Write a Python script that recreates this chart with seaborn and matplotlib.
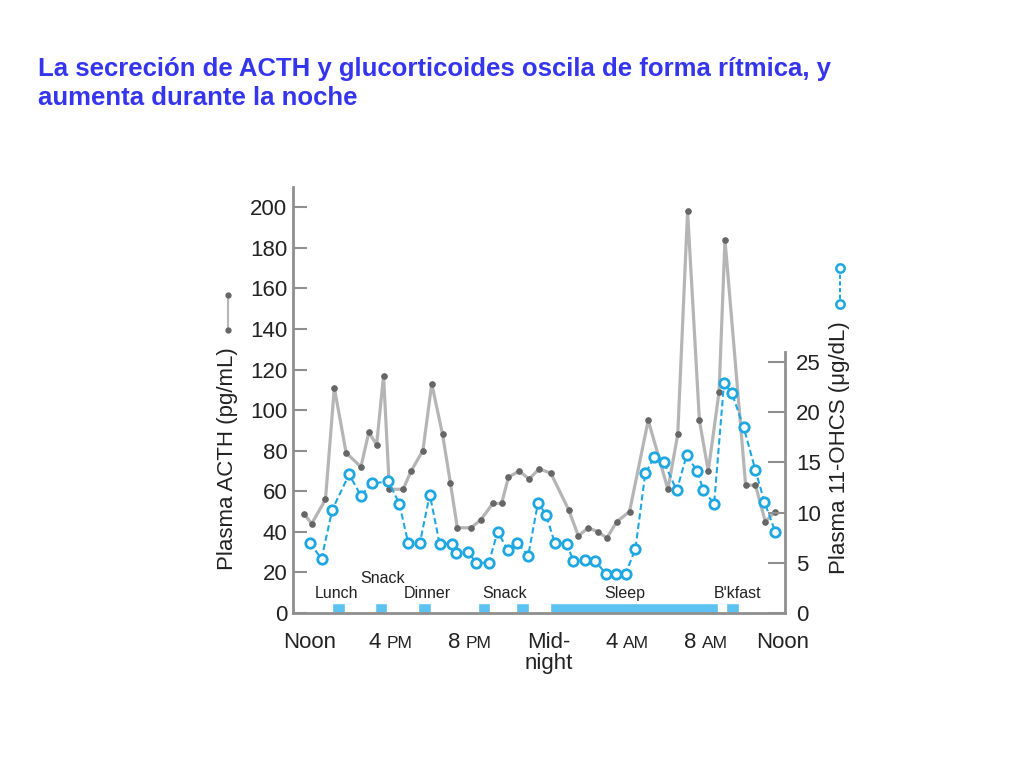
import numpy as np
import pandas as pd
import matplotlib
matplotlib.use("Agg")
import matplotlib.pyplot as plt
import matplotlib.transforms as mtransforms
from matplotlib.lines import Line2D
import seaborn as sns

# hours after noon, ACTH (pg/mL)
acth_hours = [-0.45, -0.05, 0.65, 1.1, 1.7, 2.45, 2.85, 3.25, 3.6, 3.9, 4.6, 5.0,
              5.6, 6.05, 6.6, 7.0, 7.35, 8.05, 8.55, 9.15, 9.6, 9.95, 10.5, 11.0,
              11.5, 12.1, 13.0, 13.5, 14.0, 14.5, 14.95, 15.45, 16.1, 17.05, 18.05,
              18.55, 19.05, 19.65, 20.1, 20.65, 20.95, 22.0, 22.5, 23.0, 23.5]
acth_vals = [49, 44, 56, 111, 79, 72, 89, 83, 117, 61, 61, 70,
             80, 113, 88, 64, 42, 42, 46, 54, 54, 67, 70, 66,
             71, 69, 51, 38, 42, 40, 37, 45, 50, 95, 61,
             88, 198, 95, 70, 109, 184, 63, 63, 45, 50]

# hours after noon, 11-OHCS (ug/dL)
ohcs_hours = [-0.15, 0.45, 1.0, 1.85, 2.45, 3.0, 3.85, 4.4, 4.85, 5.45, 5.95, 6.45,
              7.1, 7.3, 7.9, 8.3, 8.95, 9.4, 9.9, 10.4, 10.95, 11.45, 11.85, 12.3,
              12.9, 13.25, 13.85, 14.35, 14.9, 15.4, 15.9, 16.4, 16.9, 17.35, 17.85,
              18.5, 19.0, 19.55, 19.85, 20.4, 20.9, 21.3, 21.9, 22.5, 22.95, 23.5]
ohcs_vals = [7.0, 5.4, 10.3, 13.8, 11.7, 12.9, 13.1, 10.9, 7.0, 7.0, 11.8, 6.9,
             6.9, 6.0, 6.1, 5.0, 5.0, 8.1, 6.3, 7.0, 5.7, 11.0, 9.8, 7.0,
             6.9, 5.2, 5.3, 5.2, 3.9, 3.9, 3.9, 6.4, 13.9, 15.5, 15.0,
             12.2, 15.7, 14.1, 12.2, 10.9, 22.9, 21.9, 18.5, 14.2, 11.1, 8.1]

# meals / sleep periods (hours after noon)
meal_starts = [1.0, 3.15, 5.35, 8.4, 10.35, 12.05, 21.0]
meal_ends = [1.65, 3.8, 6.0, 9.0, 11.0, 20.6, 21.65]
meal_labels = ["Lunch", "Snack", "Dinner", "Snack", "Sleep", "B'kfast"]
meal_label_x = [1.2, 3.55, 5.8, 9.75, 15.85, 21.6]
meal_label_y = [9.8, 17.2, 9.8, 9.8, 9.8, 9.8]

hour_ticks = [0, 4, 8, 12, 16, 20, 24]
hour_labels = ["Noon", "4", "8", "Mid-\nnight", "4", "8", "Noon"]
hour_suffix = ["", "PM", "PM", "", "AM", "AM", ""]

acth = pd.DataFrame({"hour": acth_hours, "acth": acth_vals})
ohcs = pd.DataFrame({"hour": ohcs_hours, "ohcs": ohcs_vals})

sns.set_theme(style="white")
plt.rcParams["font.family"] = ["Liberation Sans", "DejaVu Sans"]

GREY = "#8f8f8f"
BLUE = "#1ea7e1"
TXT = "#222222"

fig = plt.figure(figsize=(10.24, 7.68), dpi=100)
ax = fig.add_axes([293 / 1024, 1 - 613 / 768, 492 / 1024, 426 / 768])
ax2 = ax.twinx()

# meal bars
widths = np.array(meal_ends) - np.array(meal_starts)
ax.bar(meal_starts, 5, width=widths, align="edge", color="#5bc2f2", zorder=2)
for lab, x, y in zip(meal_labels, meal_label_x, meal_label_y):
    ax.text(x, y, lab, ha="center", va="center", fontsize=11.5, color=TXT)

sns.lineplot(data=acth, x="hour", y="acth", ax=ax, color="#b5b5b5", linewidth=2.3,
             marker="o", markersize=4, markerfacecolor="#666666",
             markeredgecolor="#666666", zorder=3)
sns.lineplot(data=ohcs, x="hour", y="ohcs", ax=ax2, color=BLUE, linewidth=1.5,
             linestyle=(0, (3, 1.6)), marker="o", markersize=6.8,
             markerfacecolor="white", markeredgecolor=BLUE, markeredgewidth=2,
             zorder=4)

ax.set_xlim(-1, 24)
ax.set_ylim(0, 210)
ax2.set_ylim(0, 210 / 4.95)

ax.set_xlabel("")
ax.set_ylabel("")
ax2.set_ylabel("")

for s in ["top", "right"]:
    ax.spines[s].set_visible(False)
for s in ["top", "left", "bottom"]:
    ax2.spines[s].set_visible(False)
for s in ["left", "bottom"]:
    ax.spines[s].set_color(GREY)
    ax.spines[s].set_linewidth(2)
ax2.spines["right"].set_color(GREY)
ax2.spines["right"].set_linewidth(2)
ax2.spines["right"].set_bounds(0, 26)

ax.set_yticks(range(0, 201, 20))
ax.tick_params(axis="y", direction="in", length=10, width=1.5, color=GREY,
               labelsize=16, labelcolor=TXT, pad=4)
ax2.set_yticks(range(0, 26, 5))
ax2.tick_params(axis="y", direction="in", length=12, width=1.5, color=GREY,
                labelsize=16, labelcolor=TXT, pad=8)

ax.set_xticks(hour_ticks)
ax.set_xticklabels([])
ax.set_xticks(range(1, 24), minor=True)
ax.tick_params(axis="x", which="major", length=0)
ax.tick_params(axis="x", which="minor", direction="out", length=9, width=1.5,
               color=GREY)

# time labels, AM/PM in smaller caps
trans = mtransforms.blended_transform_factory(ax.transData, ax.transAxes)
for x, lab, suf in zip(hour_ticks, hour_labels, hour_suffix):
    if suf:
        ax.annotate(lab, xy=(x, 0), xycoords=trans, xytext=(-7.3, -25.2),
                    textcoords="offset points", ha="right", va="baseline",
                    fontsize=16, color=TXT)
        ax.annotate(suf, xy=(x, 0), xycoords=trans, xytext=(-3.1, -25.2),
                    textcoords="offset points", ha="left", va="baseline",
                    fontsize=12.5, color=TXT)
    elif "\n" in lab:
        ax.annotate(lab, xy=(x, 0), xycoords=trans, xytext=(0, -13.5),
                    textcoords="offset points", ha="center", va="top",
                    fontsize=16, color=TXT, linespacing=1.0)
    else:
        ax.annotate(lab, xy=(x, 0), xycoords=trans, xytext=(-2, -25.2),
                    textcoords="offset points", ha="center", va="baseline",
                    fontsize=16, color=TXT)

# axis labels with their legend keys
fig.text(228 / 1024, 1 - 459 / 768, "Plasma ACTH (pg/mL)", rotation=90,
         ha="center", va="center", fontsize=16, color=TXT)
fig.text(840 / 1024, 1 - 448 / 768, "Plasma 11-OHCS (\u03bcg/dL)", rotation=90,
         ha="center", va="center", fontsize=16, color=TXT)
fig.add_artist(Line2D([228 / 1024] * 2, [1 - 295 / 768, 1 - 330 / 768],
                      color="#b5b5b5", linewidth=1.5, marker="o", markersize=3.5,
                      markerfacecolor="#666666", markeredgecolor="#666666"))
fig.add_artist(Line2D([840 / 1024] * 2, [1 - 268 / 768, 1 - 304 / 768],
                      color=BLUE, linewidth=1.5, linestyle=(0, (2, 1.2)),
                      marker="o", markersize=6, markerfacecolor="white",
                      markeredgecolor=BLUE, markeredgewidth=1.8))

# title
title_color = "#3535ee"
fig.text(38 / 1024, 1 - 76 / 768,
         "La secreción de ACTH y glucorticoides oscila de forma rítmica, y",
         ha="left", va="baseline", fontsize=18.5, fontweight="bold", color=title_color)
fig.text(38 / 1024, 1 - 105 / 768, "aumenta durante la noche",
         ha="left", va="baseline", fontsize=18.5, fontweight="bold", color=title_color)

fig.savefig("out.png", dpi=100)
